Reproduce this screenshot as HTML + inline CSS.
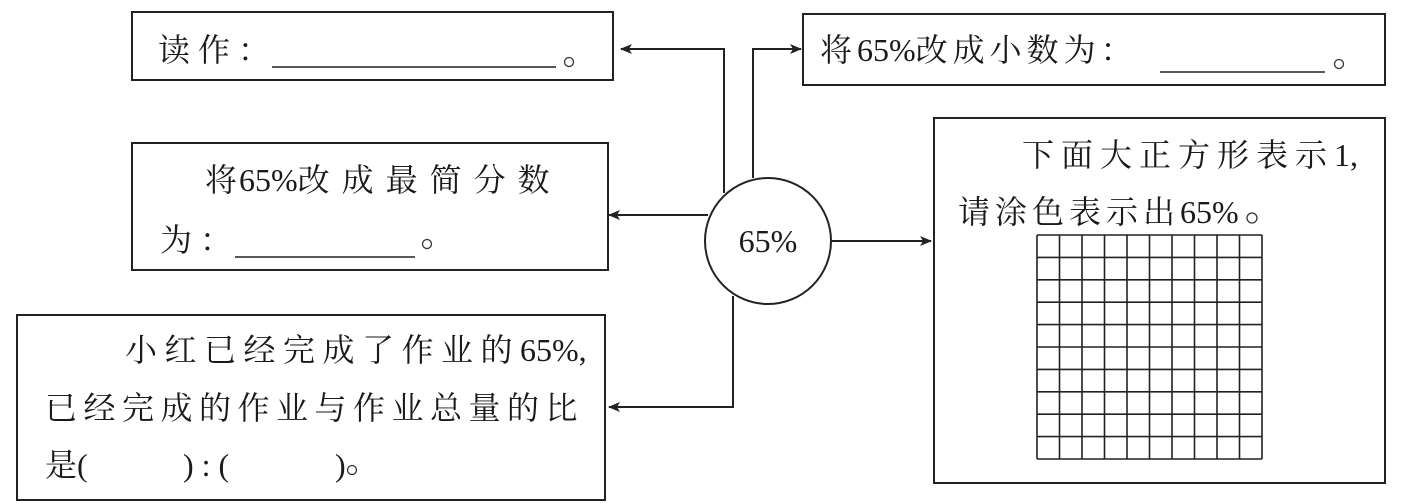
<!DOCTYPE html>
<html><head><meta charset="utf-8"><style>
html,body{margin:0;padding:0;background:#fff;}
svg{display:block;}
text{font-family:"Liberation Serif","Noto Serif CJK SC",serif;font-size:32px;fill:#1a1a1a;}
</style></head><body>
<svg width="1401" height="503" viewBox="0 0 1401 503" xmlns="http://www.w3.org/2000/svg">
<defs><marker id="a" markerWidth="12" markerHeight="10" refX="11" refY="5" orient="auto" markerUnits="userSpaceOnUse"><path d="M0,0 L12,5 L0,10 L3,5 Z" fill="#222"/></marker></defs>
<g fill="none" stroke="#222" stroke-width="2">
<rect x="132" y="12" width="481" height="68"/>
<rect x="132" y="143" width="476" height="127"/>
<rect x="17" y="315" width="588" height="185"/>
<rect x="803" y="14" width="582" height="71"/>
<rect x="934" y="118" width="451" height="365"/>
<circle cx="768" cy="241" r="63"/>
<polyline points="724,193 724,49 621,49" marker-end="url(#a)"/>
<polyline points="753,178 753,49 801,49" marker-end="url(#a)"/>
<polyline points="708,215 609,215" marker-end="url(#a)"/>
<polyline points="733,296 733,407 609,407" marker-end="url(#a)"/>
<polyline points="832,241 931,241" marker-end="url(#a)"/>
<line x1="272" y1="67" x2="556" y2="67" stroke-width="1.5"/>
<line x1="235" y1="257" x2="415" y2="257" stroke-width="1.5"/>
<line x1="1160" y1="72" x2="1325" y2="72" stroke-width="1.5"/>
</g>
<g fill="none" stroke="#333" stroke-width="1.3">
<circle cx="569" cy="62" r="4.5"/>
<circle cx="427" cy="244" r="4.5"/>
<circle cx="1339" cy="64" r="4.5"/>
<circle cx="352" cy="470" r="4.5"/>
<circle cx="1252" cy="218" r="5"/>
</g>
<g stroke="#222" stroke-width="1.6">
<path d="M1037,235H1262M1037,257.4H1262M1037,279.8H1262M1037,302.2H1262M1037,324.6H1262M1037,347H1262M1037,369.4H1262M1037,391.8H1262M1037,414.2H1262M1037,436.6H1262M1037,459H1262"/>
<path d="M1037,235V459M1059.5,235V459M1082,235V459M1104.5,235V459M1127,235V459M1149.5,235V459M1172,235V459M1194.5,235V459M1217,235V459M1239.5,235V459M1262,235V459"/>
</g>
<g font-family="Liberation Serif, Noto Serif CJK SC, serif">
<text x="158" y="61" letter-spacing="8">读作：</text>
<text x="205" y="191" letter-spacing="12">将<tspan letter-spacing="0" dx="-10">65%</tspan>改成最简分数</text>
<text x="160" y="251" letter-spacing="8">为：</text>
<text x="125" y="361" letter-spacing="7.5">小红已经完成了作业的<tspan letter-spacing="0">65%,</tspan></text>
<text x="45" y="419" letter-spacing="6.5">已经完成的作业与作业总量的比</text>
<text x="45" y="476">是(</text>
<text x="183" y="476">) : (</text>
<text x="335" y="476">)</text>
<text x="820" y="61" letter-spacing="5">将<tspan letter-spacing="0">65%</tspan>改成小数为：</text>
<text x="1022" y="166" letter-spacing="7">下面大正方形表示<tspan letter-spacing="0">1,</tspan></text>
<text x="958" y="223" letter-spacing="5">请涂色表示出<tspan letter-spacing="0">65%</tspan></text>
<text x="768" y="252" text-anchor="middle">65%</text>
</g>
</svg>
</body></html>
